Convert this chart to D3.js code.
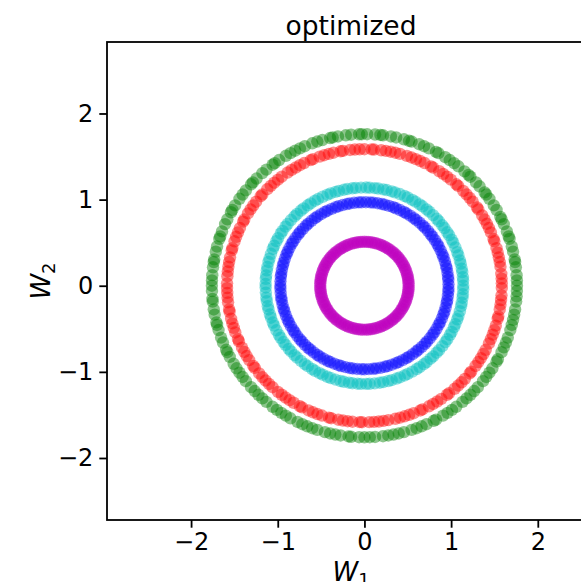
<!DOCTYPE html>
<html>
<head>
<meta charset="utf-8">
<script src="https://cdn.jsdelivr.net/npm/d3@7"></script>
<style>
  body { margin: 0; background: #fff; }
  svg { display: block; font-family: "DejaVu Sans", sans-serif; }
</style>
</head>
<body>
<svg width="581" height="582"></svg>
<script>
// rings of weights, each one a radius and the angles (deg) of its points
const ringNames = ['m', 'b', 'c', 'r', 'g'];
const ringColors = ['#bf00bf', '#0000ff', '#00bfbf', '#ff0000', '#008000'];
const ringRadius = [0.51, 0.97, 1.14, 1.585, 1.76];

const anglesM = [0,3,5,8,10,13,15,18,21,23,26,28,31,33,36,39,41,44,46,49,51,54,57,59,62,64,67,69,72,75,77,80,82,85,87,90,93,95,98,100,103,105,108,111,113,116,118,121,123,126,129,131,134,136,139,141,144,147,149,152,154,157,159,162,165,167,170,172,175,177,180,183,185,188,190,193,195,198,201,203,206,208,211,213,216,219,221,224,226,229,231,234,237,239,242,244,247,249,252,255,257,260,262,265,267,270,273,275,278,280,283,285,288,291,293,296,298,301,303,306,309,311,314,316,319,321,324,327,329,332,334,337,339,342,345,347,350,352,355,357];
const anglesB = [1,4,6,9,12,14,17,20,22,25,28,30,33,36,38,41,44,46,49,52,54,57,60,62,65,68,70,73,76,78,81,84,86,89,92,94,97,100,102,105,108,110,113,116,118,121,124,126,129,132,134,137,140,142,145,148,150,153,156,158,161,164,166,169,172,174,177,180,182,185,188,190,193,196,198,201,204,206,209,212,214,217,220,222,225,228,230,233,236,238,241,244,246,249,252,254,257,260,262,265,268,270,273,276,278,281,284,286,289,292,294,297,300,302,305,308,310,313,316,318,321,324,326,329,332,334,337,340,342,345,348,350,353,356,358];
const anglesC = [0,3,5,8,10,13,15,18,20,23,26,28,31,33,36,38,41,43,46,49,51,54,56,59,61,64,66,69,72,74,77,79,82,84,87,89,92,95,97,100,102,105,107,110,112,115,118,120,123,125,128,130,133,135,138,141,143,146,148,151,153,156,158,161,164,166,169,171,174,176,179,181,184,187,189,192,194,197,199,202,204,207,210,212,215,217,220,222,225,227,230,233,235,238,240,243,245,248,250,253,256,258,261,263,266,268,271,273,276,279,281,284,286,289,291,294,296,299,302,304,307,309,312,314,317,319,322,325,327,330,332,335,337,340,342,345,348,350,353,355,358];
const anglesR = [1,3,5,8,10,12,14,16,19,20,23,25,27,29,31,34,35,38,40,42,44,47,48,51,53,55,57,60,61,64,66,68,70,72,75,77,79,81,83,86,87,90,92,94,96,99,100,103,105,107,109,112,113,116,118,120,122,124,127,129,131,133,135,138,139,142,144,146,148,151,152,155,157,159,161,164,165,168,170,172,174,176,179,181,183,185,187,190,191,194,196,198,200,203,204,207,209,211,213,216,217,220,222,224,226,228,231,233,235,237,239,242,243,246,248,250,252,255,256,259,261,263,265,268,269,272,274,276,278,280,283,285,287,289,291,294,295,298,300,302,304,307,308,311,313,315,317,320,321,324,326,328,330,332,335,337,339,341,343,346,347,350,352,354,356,359];
const anglesG = [0,2,4,7,9,10,13,15,18,19,21,24,26,27,30,32,35,37,38,41,43,46,47,49,52,54,56,58,61,62,65,67,69,72,73,75,78,80,83,84,86,89,91,92,95,97,100,102,103,106,108,110,113,115,117,119,121,124,126,127,130,132,135,137,138,141,143,145,148,150,151,154,156,159,161,162,165,167,170,171,173,176,178,180,182,185,186,189,191,194,195,197,200,202,205,206,208,211,213,215,217,219,222,224,226,228,230,233,235,237,239,241,244,246,248,250,252,255,257,259,261,264,265,268,270,272,274,277,279,281,283,285,288,290,292,294,297,298,301,303,305,307,310,312,314,316,318,321,323,325,327,330,331,334,336,338,340,343,345,347,349,351,354,356,358];
const ringAngles = [anglesM, anglesB, anglesC, anglesR, anglesG];

const xTicks = [-2, -1, 0, 1, 2];
const yTicks = [-2, -1, 0, 1, 2];

const svg = d3.select('svg');
const padL = 107, padT = 42, padR = 595, padB = 520;

const x = d3.scaleLinear().domain([-2.97, 2.66]).range([padL, padR]);
const y = d3.scaleLinear().domain([-2.72, 2.83]).range([padB, padT]);

// soft edges like the resampled original
const defs = svg.append('defs');
defs.append('filter').attr('id', 'soft')
  .append('feGaussianBlur').attr('stdDeviation', 0.5);

const points = [];
ringNames.forEach((name, i) => {
  ringAngles[i].forEach(a => {
    const t = a * Math.PI / 180;
    points.push({
      ring: i,
      w1: ringRadius[i] * Math.cos(t),
      w2: ringRadius[i] * Math.sin(t)
    });
  });
});

svg.append('g')
  .attr('filter', 'url(#soft)')
  .selectAll('circle')
  .data(points)
  .join('circle')
  .attr('cx', d => x(d.w1))
  .attr('cy', d => y(d.w2))
  .attr('r', 6.2)
  .attr('fill', d => ringColors[d.ring])
  .attr('fill-opacity', 0.45);

const fmt = d => (d < 0 ? '\u2212' : '') + Math.abs(d);

const xAxis = svg.append('g')
  .attr('transform', `translate(0,${padB})`)
  .call(d3.axisBottom(x).tickValues(xTicks).tickFormat(fmt).tickSize(7.7).tickPadding(5));
const yAxis = svg.append('g')
  .attr('transform', `translate(${padL},0)`)
  .call(d3.axisLeft(y).tickValues(yTicks).tickFormat(fmt).tickSize(7.7).tickPadding(6));

[xAxis, yAxis].forEach(g => {
  g.select('.domain').remove();
  g.selectAll('line').attr('stroke', '#000').attr('stroke-width', 1.8);
  g.selectAll('text')
    .attr('fill', '#000')
    .style('font-family', '"DejaVu Sans", sans-serif')
    .style('font-size', '24px');
});

// spines
svg.append('rect')
  .attr('x', padL).attr('y', padT)
  .attr('width', padR - padL).attr('height', padB - padT)
  .attr('fill', 'none')
  .attr('stroke', '#000')
  .attr('stroke-width', 1.8);

// title
svg.append('text')
  .attr('x', (padL + padR) / 2)
  .attr('y', 35)
  .attr('text-anchor', 'middle')
  .style('font-size', '26.5px')
  .text('optimized');

// axis labels
const xl = svg.append('text')
  .attr('x', (padL + padR) / 2)
  .attr('y', 581)
  .attr('text-anchor', 'middle')
  .style('font-size', '26px');
xl.append('tspan').style('font-style', 'italic').text('W');
xl.append('tspan').attr('dy', 5).style('font-size', '18px').text('1');

const yl = svg.append('text')
  .attr('transform', `translate(50,${(padT + padB) / 2}) rotate(-90)`)
  .attr('text-anchor', 'middle')
  .style('font-size', '26px');
yl.append('tspan').style('font-style', 'italic').text('W');
yl.append('tspan').attr('dy', 5).style('font-size', '18px').text('2');
</script>
</body>
</html>
